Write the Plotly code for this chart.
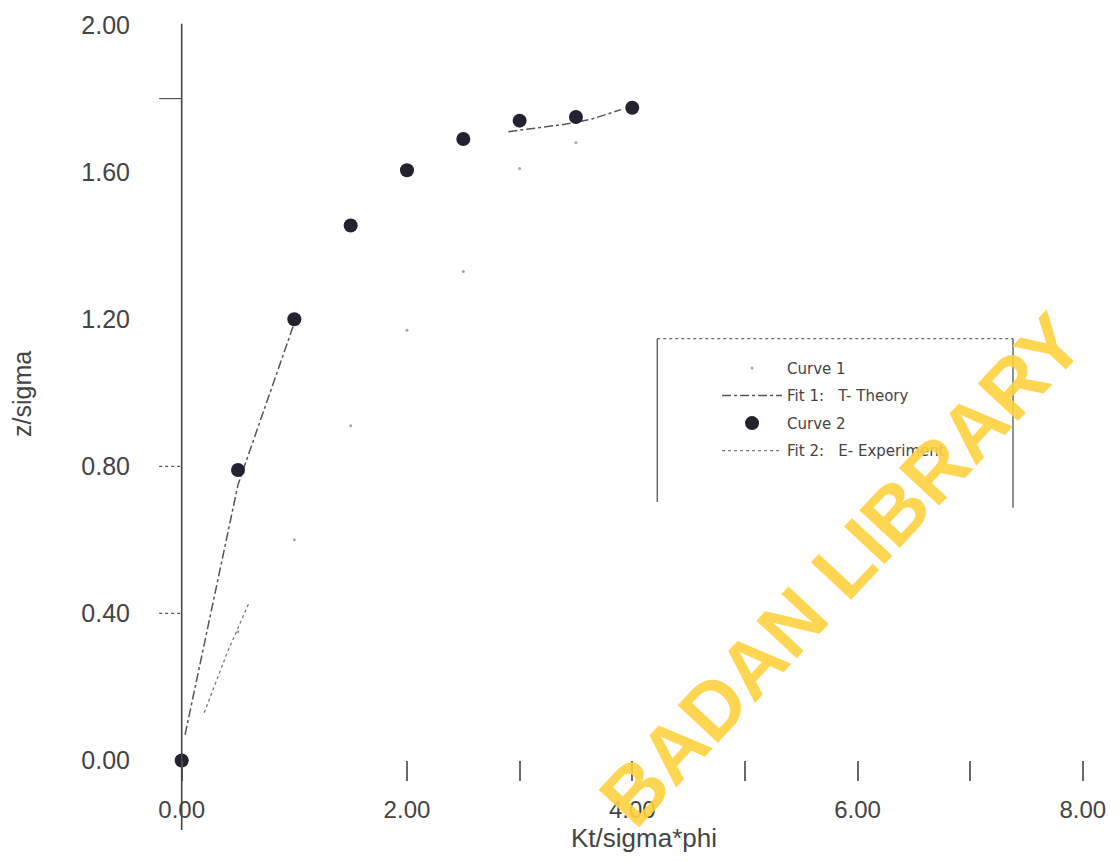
import plotly.graph_objects as go

# ---- data ----
curve2_x = [0.0, 0.5, 1.0, 1.5, 2.0, 2.5, 3.0, 3.5, 4.0]
curve2_y = [0.00, 0.79, 1.20, 1.455, 1.605, 1.69, 1.74, 1.75, 1.775]

curve1_x = [0.5, 1.0, 1.5, 2.0, 2.5, 3.0, 3.5]
curve1_y = [0.35, 0.60, 0.91, 1.17, 1.33, 1.61, 1.68]

fit1_x = [0.03, 0.5, 1.0, None, 2.9, 3.4, 3.65, 3.9]
fit1_y = [0.07, 0.75, 1.19, None, 1.71, 1.73, 1.745, 1.77]

fit2_x = [0.2, 0.4, 0.6]
fit2_y = [0.13, 0.29, 0.43]

y_ticks = [0.0, 0.4, 0.8, 1.2, 1.6, 2.0]
x_ticks = [0, 2, 3, 4, 5, 6, 7, 8]
x_labels = ["0.00", "2.00", "", "4.00", "", "6.00", "", "8.00"]
y_marks = [0.4, 0.8, 1.8]

x_range = [-0.45, 8.25]
y_range = [-0.2, 2.03]

FONT = "Liberation Sans, Arial, sans-serif"
LEGFONT = "DejaVu Sans, Verdana, sans-serif"
NB = "\u00a0"

fig = go.Figure()
fig.add_trace(go.Scatter(x=curve1_x, y=curve1_y, mode="markers", name="Curve 1",
                         marker=dict(size=3, color="#a5a5a5"), legendgroup="a"))
fig.add_trace(go.Scatter(x=fit1_x, y=fit1_y, mode="lines",
                         name=f"Fit 1:{NB}{NB}{NB}T-{NB}Theory",
                         line=dict(color="#555555", width=1.5, dash="dashdot"),
                         connectgaps=False, legendgroup="b"))
fig.add_trace(go.Scatter(x=curve2_x, y=curve2_y, mode="markers", name="Curve 2",
                         marker=dict(size=14, color="#23232f"), cliponaxis=False,
                         legendgroup="c"))
fig.add_trace(go.Scatter(x=fit2_x, y=fit2_y, mode="lines",
                         name=f"Fit 2:{NB}{NB}{NB}E-{NB}Experiment",
                         line=dict(color="#777777", width=1.3, dash="dot"),
                         legendgroup="d"))

shapes = [
    # vertical axis line at x = 0
    dict(type="line", xref="x", yref="y domain", x0=0, x1=0, y0=0.005, y1=0.988,
         line=dict(color="#444444", width=1.6)),
    # legend frame (top dotted, sides solid)
    dict(type="line", xref="paper", yref="paper", x0=0.537, x1=0.900, y0=0.604, y1=0.604,
         line=dict(color="#666666", width=1.2, dash="dot")),
    dict(type="line", xref="paper", yref="paper", x0=0.537, x1=0.537, y0=0.604, y1=0.405,
         line=dict(color="#555555", width=1.3)),
    dict(type="line", xref="paper", yref="paper", x0=0.900, x1=0.900, y0=0.604, y1=0.398,
         line=dict(color="#555555", width=1.3)),
]
for ym in y_marks:
    shapes.append(dict(type="line", xref="x", yref="y", x0=-0.2, x1=0, y0=ym, y1=ym,
                       line=dict(color="#555555", width=1.2,
                                 dash="solid" if ym > 1.5 else "dot")))

xpos = (0 - y_range[0]) / (y_range[1] - y_range[0])

fig.update_layout(
    width=1119, height=862,
    margin=dict(l=123, r=16, t=3, b=36),
    paper_bgcolor="white", plot_bgcolor="white",
    font=dict(family=FONT, color="#444444"),
    shapes=shapes,
    showlegend=True,
    legend=dict(x=0.598, y=0.588, xanchor="left", yanchor="top",
                bgcolor="rgba(0,0,0,0)",
                font=dict(size=15, color="#444444", family=LEGFONT),
                itemwidth=60, tracegroupgap=5, traceorder="grouped"),
    xaxis=dict(range=x_range, anchor="free", position=xpos,
               tickvals=x_ticks, ticktext=x_labels,
               ticks="outside", ticklen=20, tickwidth=1.5, tickcolor="#6a6a6a",
               ticklabelstandoff=8,
               tickfont=dict(size=24, color="#444444"),
               showgrid=False, zeroline=False, showline=False),
    yaxis=dict(range=y_range, tickvals=y_ticks,
               ticktext=[f"{v:.2f}" for v in y_ticks],
               ticks="", tickfont=dict(size=25, color="#444444"),
               ticklabeloverflow="allow",
               showgrid=False, zeroline=False, showline=False),
    annotations=[
        dict(text="Kt/sigma*phi", xref="paper", yref="paper", x=0.523, y=-0.005,
             showarrow=False, font=dict(size=26, color="#444444"),
             xanchor="center", yanchor="middle"),
        dict(text="z/sigma", xref="paper", yref="paper", x=-0.112, y=0.537,
             showarrow=False, textangle=-90, font=dict(size=25, color="#444444"),
             xanchor="center", yanchor="middle"),
        dict(text="BADAN LIBRARY", xref="paper", yref="paper", x=0.7255, y=0.322,
             showarrow=False, textangle=-47, opacity=0.9,
             font=dict(size=80, color="#FFD23F", family="Liberation Sans", weight="bold"),
             xanchor="center", yanchor="middle"),
    ],
)

fig.write_html("out.html")
